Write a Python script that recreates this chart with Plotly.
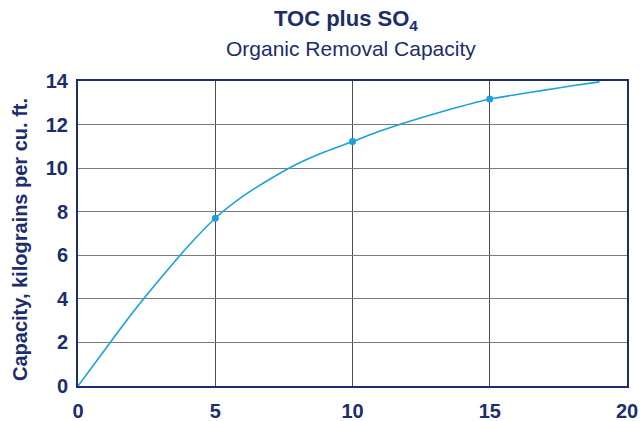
import plotly.graph_objects as go

# Curve
x_vals = [0, 1, 2, 3, 4, 5, 6, 7, 8, 9, 10, 11, 12, 13, 14, 15, 16, 17, 18, 19]
y_vals = [0, 1.7, 3.38, 4.93, 6.4, 7.7, 8.7, 9.5, 10.2, 10.75, 11.22, 11.7, 12.12,
          12.5, 12.85, 13.17, 13.38, 13.58, 13.78, 13.96]
# Marked points
mark_x = [5, 10, 15]
mark_y = [7.7, 11.22, 13.17]

x_ticks = [0, 5, 10, 15, 20]
y_ticks = [0, 2, 4, 6, 8, 10, 12, 14]

navy = "#1c2d6b"
blue = "#1ba1dc"
W, H = 642, 421
L, R, T, B = 78, 15, 81, 35
plot_w = W - L - R
plot_h = H - T - B

fig = go.Figure()
fig.add_trace(go.Scatter(x=x_vals, y=y_vals, mode="lines",
                         line=dict(color=blue, width=1.6, shape="spline", smoothing=0.6),
                         hoverinfo="skip", showlegend=False))
fig.add_trace(go.Scatter(x=mark_x, y=mark_y, mode="markers",
                         marker=dict(color=blue, size=7), showlegend=False))

tickfont = dict(size=20, color=navy, family="Liberation Sans, Arial", weight="bold")
fig.update_layout(
    width=W, height=H,
    margin=dict(l=L, r=R, t=T, b=B),
    paper_bgcolor="white", plot_bgcolor="white",
    font=dict(family="Liberation Sans, Arial, sans-serif", color=navy),
    xaxis=dict(range=[0, 20], tickvals=x_ticks, ticks="", showgrid=True,
               gridcolor="#4d4d4d", gridwidth=1, zeroline=False,
               showline=True, linecolor=navy, linewidth=2, mirror=True,
               tickfont=tickfont, automargin=False, ticklabelstandoff=6),
    yaxis=dict(range=[0, 14], tickvals=y_ticks, ticks="", showgrid=True,
               gridcolor="#7a7a7a", gridwidth=1.2, zeroline=False,
               showline=True, linecolor=navy, linewidth=2, mirror=True,
               tickfont=tickfont, automargin=False, ticklabelstandoff=4),
)

def px_x(p):
    return (p - L) / plot_w

def px_y(p):
    return (H - B - p) / plot_h

fig.add_annotation(text="<b>TOC plus SO<sub>4</sub></b>", x=px_x(346),
                   xref="paper", y=px_y(20), yref="paper", yanchor="middle",
                   showarrow=False, font=dict(size=22, color=navy))
fig.add_annotation(text="Organic Removal Capacity", x=px_x(351),
                   xref="paper", y=px_y(48), yref="paper", yanchor="middle",
                   showarrow=False, font=dict(size=21, color=navy))
fig.add_annotation(text="<b>Capacity, kilograins per cu. ft.</b>", textangle=-90,
                   x=px_x(20), xref="paper", xanchor="center",
                   y=px_y(240), yref="paper",
                   yanchor="middle", showarrow=False, font=dict(size=20, color=navy))

fig.write_html("out.html", config={"displayModeBar": False},
               post_script="document.body.style.margin='0';")
